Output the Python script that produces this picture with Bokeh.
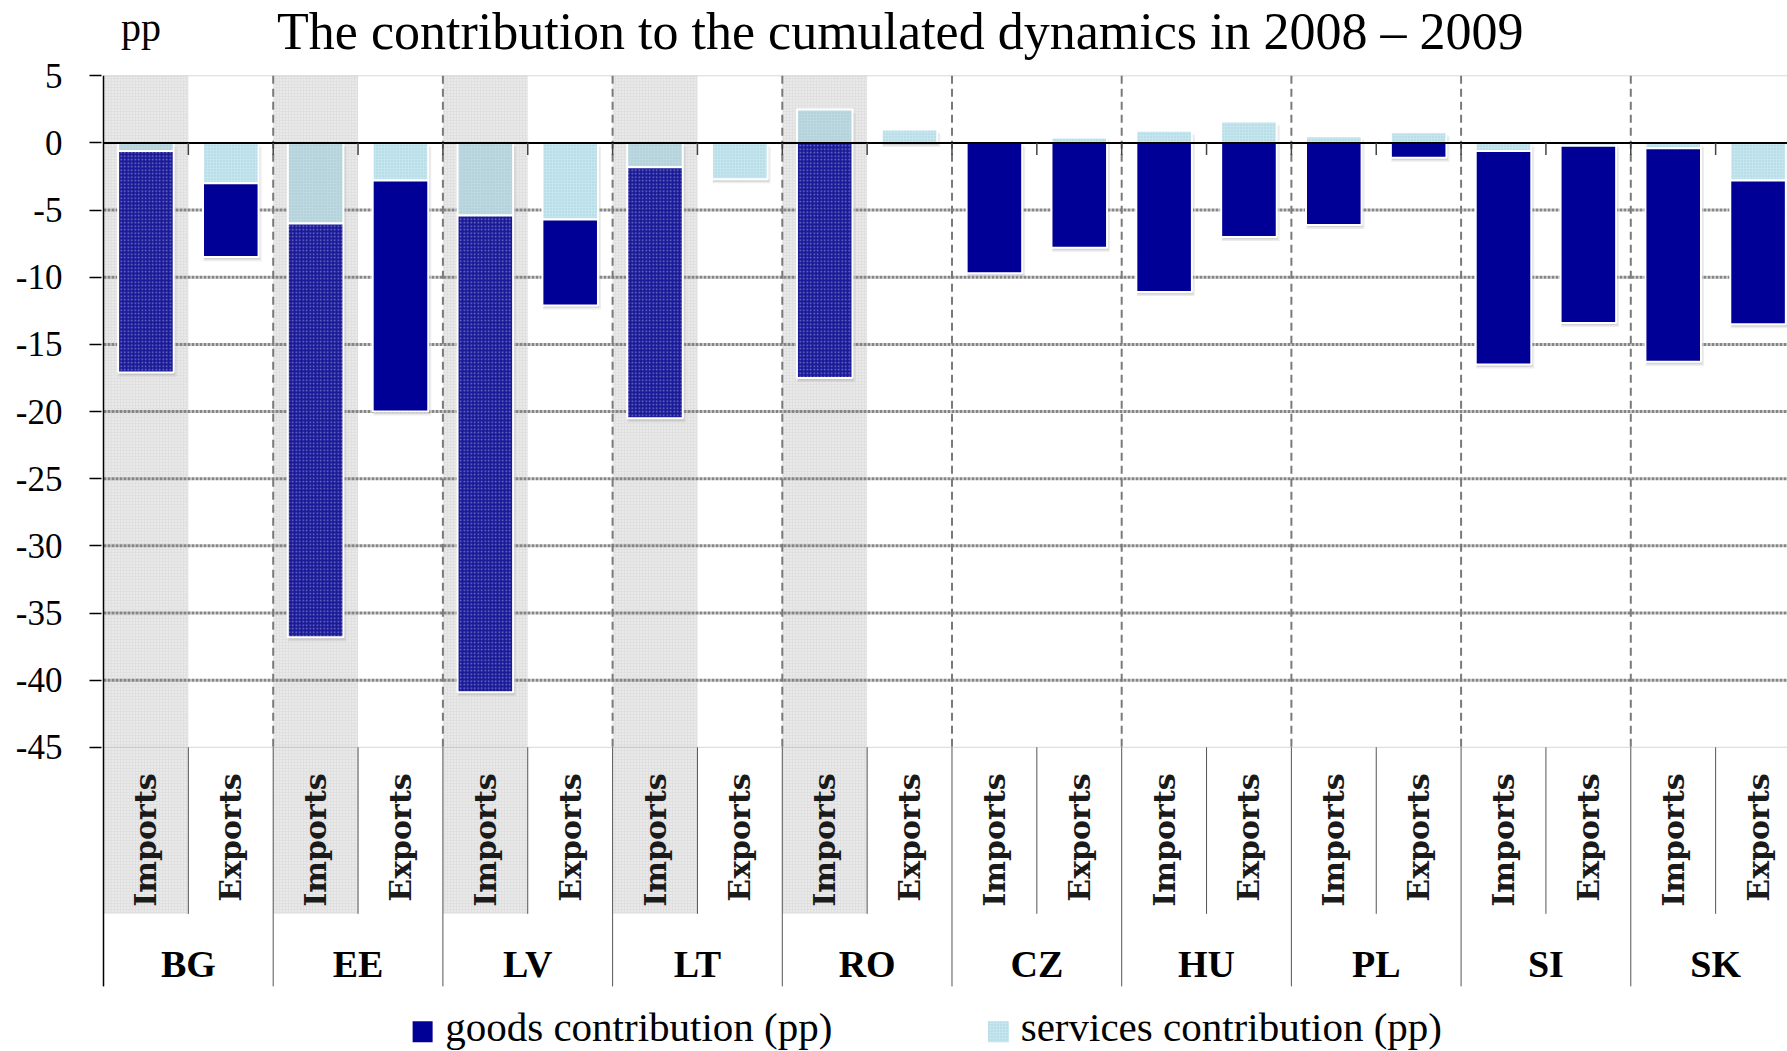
from math import pi

from bokeh.core.properties import value
from bokeh.embed import file_html
from bokeh.models import ColumnDataSource, FixedTicker, Range1d
from bokeh.plotting import figure
from bokeh.resources import INLINE

# ---- data (percentage points) ----
countries = ["BG", "EE", "LV", "LT", "RO", "CZ", "HU", "PL", "SI", "SK"]
flows = ["Imports", "Exports"]
imports_goods = [-16.5, -30.8, -35.5, -18.7, -17.5, -9.7, -11.1, -6.1, -15.9, -15.9]
imports_services = [-0.6, -6.0, -5.4, -1.8, 2.5, 0.0, 0.9, 0.5, -0.6, -0.4]
exports_goods = [-5.5, -17.2, -6.4, 0.0, 0.0, -7.8, -7.0, -1.1, -13.2, -10.7]
exports_services = [-3.0, -2.8, -5.7, -2.7, 1.0, 0.4, 1.6, 0.8, -0.2, -2.8]
highlighted = ["BG", "EE", "LV", "LT", "RO"]
y_ticks = [5, 0, -5, -10, -15, -20, -25, -30, -35, -40, -45]
title_text = "The contribution to the cumulated dynamics in 2008 \u2013 2009"
unit_text = "pp"
legend_labels = ["goods contribution (pp)", "services contribution (pp)"]

# ---- colours ----
NAVY = "#000096"
NAVY_PAT = "#1a1a98"
SERV = "#c6e6ef"
SERV_PAT = "#bcd8e1"
BAND = "#e0e0e0"
SERIF = "Liberation Serif"

Y_TOP, Y_BOT = 5, -45
TABLE_SUB = -57.4     # bottom of Imports/Exports row
TABLE_BOT = -62.8     # bottom of country row

p = figure(width=1787, height=1051,
           x_range=Range1d(-0.0236, 19.847), y_range=Range1d(-67.65, 10.607),
           output_backend="svg", toolbar_location=None, x_axis_location=None,
           min_border_left=101, min_border_right=0, min_border_top=0, min_border_bottom=0)
p.outline_line_color = None
p.grid.visible = False
p.background_fill_color = "white"
p.border_fill_color = "white"

ax = p.yaxis[0]
ax.ticker = FixedTicker(ticks=y_ticks)
ax.major_label_overrides = {t: str(t) for t in y_ticks}
ax.axis_line_color = None
ax.major_tick_out = 12
ax.major_tick_in = 0
ax.major_tick_line_color = "black"
ax.major_tick_line_width = 1.5
ax.minor_tick_out = 0
ax.minor_tick_in = 0
ax.major_label_text_font = SERIF
ax.major_label_text_font_size = "35px"
ax.major_label_text_color = "black"
ax.major_label_standoff = 27

# ---- slot geometry: two slots (Imports, Exports) per country ----
imp_x = [2 * k + 0.5 for k in range(len(countries))]
exp_x = [2 * k + 1.5 for k in range(len(countries))]
n_slots = 2 * len(countries)

# shaded background for the Imports columns of highlighted countries
band_left = [2 * countries.index(c) for c in highlighted]
p.quad(left=band_left, right=[b + 1 for b in band_left], top=Y_TOP, bottom=TABLE_SUB,
       fill_color=BAND, line_color=None, hatch_pattern="dot", hatch_color="#f6f6f6",
       hatch_scale=3, hatch_weight=1)

# horizontal grid
inner = [t for t in y_ticks if Y_BOT < t < Y_TOP and t != 0]
p.segment(x0=0, x1=n_slots, y0=inner, y1=inner, line_color="#858585",
          line_width=3, line_dash="3 1")
p.segment(x0=0, x1=n_slots, y0=[Y_TOP, Y_BOT], y1=[Y_TOP, Y_BOT], line_color="#b0b0b0",
          line_width=1, line_dash="1 1")

# dashed country separators inside the plot
sep = [2 * k for k in range(1, len(countries))]
p.segment(x0=sep, x1=sep, y0=Y_TOP, y1=Y_BOT, line_color="#7a7a7a", line_width=2,
          line_dash="8 5")

# category table below the plot
p.segment(x0=[0] + sep, x1=[0] + sep, y0=Y_BOT, y1=TABLE_BOT, line_color="#555555",
          line_width=1)
mid = [2 * k + 1 for k in range(len(countries))]
p.segment(x0=mid, x1=mid, y0=Y_BOT, y1=TABLE_SUB, line_color="#555555", line_width=1)


# ---- stacked bars ----
def stack(goods, services):
    """Return (bottom, top) of the services and goods pieces, stacked away from zero."""
    s_bot, s_top, g_bot, g_top = [], [], [], []
    for g, s in zip(goods, services):
        s_bot.append(min(0, s))
        s_top.append(max(0, s))
        base = s if (s < 0 and g < 0) else 0
        g_top.append(base if g < 0 else base + g)
        g_bot.append(base + g if g < 0 else base)
    return s_bot, s_top, g_bot, g_top


rows = {"x": [], "sb": [], "st": [], "gb": [], "gt": [], "hl": []}
for xs, gv, sv in ((imp_x, imports_goods, imports_services), (exp_x, exports_goods, exports_services)):
    sb, st, gb, gt = stack(gv, sv)
    for i, x in enumerate(xs):
        rows["x"].append(x)
        rows["sb"].append(sb[i]); rows["st"].append(st[i])
        rows["gb"].append(gb[i]); rows["gt"].append(gt[i])
        rows["hl"].append(xs is imp_x and countries[i] in highlighted)

W = 0.655
# soft drop shadow
tops = [max(a, b) for a, b in zip(rows["st"], rows["gt"])]
bots = [min(a, b) for a, b in zip(rows["sb"], rows["gb"])]
for dx, dy, a, extra in ((0.02, 0.3, 0.18, 0.03), (0.015, 0.18, 0.3, 0.0)):
    p.vbar(x=[x + dx for x in rows["x"]], width=W + extra, top=[t - dy for t in tops],
           bottom=[b - dy for b in bots], fill_color="#9a9a9a", fill_alpha=a, line_color=None)


def pieces(hl_flag, lo_key, hi_key):
    xs, lo, hi = [], [], []
    for x, b, t, h in zip(rows["x"], rows[lo_key], rows[hi_key], rows["hl"]):
        if h == hl_flag and t - b > 1e-9:
            xs.append(x); lo.append(b); hi.append(t)
    return ColumnDataSource(dict(x=xs, bottom=lo, top=hi))


# services
p.vbar(x="x", width=W, top="top", bottom="bottom", source=pieces(False, "sb", "st"),
       fill_color=SERV, line_color="white", line_width=2,
       hatch_pattern="dot", hatch_color="#a8d2de", hatch_scale=3, hatch_weight=1)
p.vbar(x="x", width=W, top="top", bottom="bottom", source=pieces(True, "sb", "st"),
       fill_color=SERV_PAT, line_color="white", line_width=2,
       hatch_pattern="dot", hatch_color="#a9c8d2", hatch_scale=3, hatch_weight=1)
# goods
p.vbar(x="x", width=W, top="top", bottom="bottom", source=pieces(False, "gb", "gt"),
       fill_color=NAVY, line_color="white", line_width=2)
p.vbar(x="x", width=W, top="top", bottom="bottom", source=pieces(True, "gb", "gt"),
       fill_color=NAVY_PAT, line_color="white", line_width=2,
       hatch_pattern="dot", hatch_color="#7676c8", hatch_scale=3.5, hatch_weight=1.2)

# zero line, its ticks and the vertical axis line
p.segment(x0=0, x1=n_slots, y0=0, y1=0, line_color="black", line_width=2)
p.segment(x0=list(range(1, n_slots)), x1=list(range(1, n_slots)), y0=0, y1=-0.9,
          line_color="#444444", line_width=1.5)
p.segment(x0=0, x1=0, y0=Y_TOP, y1=TABLE_BOT, line_color="black", line_width=1.5)

# ---- texts ----
p.text(x=[9.39], y=[8.29], text=[title_text], text_font=value(SERIF), text_font_size="52px",
       text_align="center", text_baseline="alphabetic", text_color="black")
p.text(x=[0.206], y=[8.6], text=[unit_text], text_font=value(SERIF), text_font_size="40px",
       text_align="left", text_baseline="alphabetic", text_color="black")

flow_x = imp_x + exp_x
flow_t = [flows[0]] * len(countries) + [flows[1]] * len(countries)
p.text(x=flow_x, y=[-46.94] * len(flow_x), text=flow_t, angle=pi / 2,
       text_font=value("DejaVu Serif"), text_font_style="bold", text_font_size="30px",
       text_align="right", text_baseline="middle", text_color="#1a1a1a")
p.text(x=mid, y=[-61.1] * len(mid), text=countries, text_font=value(SERIF),
       text_font_style="bold", text_font_size="38px", text_align="center",
       text_baseline="alphabetic", text_color="black")

# legend
p.rect(x=[3.761], y=[-66.18], width=20, height=21, width_units="screen", height_units="screen",
       fill_color=NAVY, line_color=None)
p.rect(x=[10.547], y=[-66.18], width=21, height=21, width_units="screen", height_units="screen",
       fill_color=SERV, line_color=None, hatch_pattern="dot", hatch_color="#a8d2de",
       hatch_scale=3, hatch_weight=1)
p.text(x=[4.027, 10.81], y=[-65.8, -65.8], text=legend_labels, text_font=value(SERIF),
       text_font_size="41px", text_align="left", text_baseline="alphabetic", text_color="black")

open("out.html", "w").write(file_html(p, INLINE))
